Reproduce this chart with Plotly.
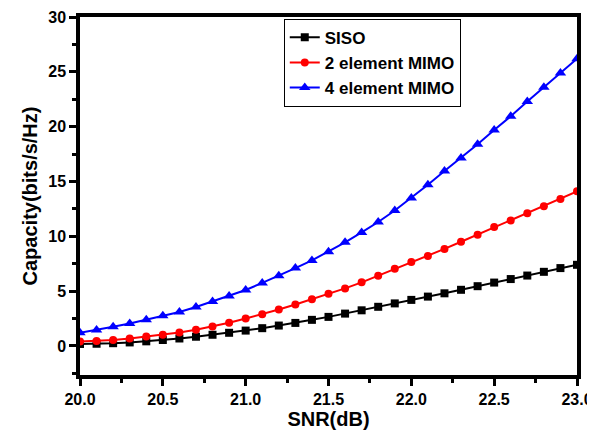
import plotly.graph_objects as go

snr = [round(20.0 + 0.1 * i, 1) for i in range(31)]

siso = [0.18, 0.2, 0.25, 0.32, 0.42, 0.54, 0.68, 0.84, 1.02, 1.2, 1.4,
        1.62, 1.86, 2.1, 2.38, 2.65, 2.95, 3.25, 3.57, 3.88, 4.2,
        4.5, 4.8, 5.12, 5.45, 5.78, 6.1, 6.42, 6.76, 7.1, 7.4]
mimo2 = [0.4, 0.45, 0.55, 0.68, 0.85, 1.02, 1.22, 1.48, 1.78, 2.12, 2.5,
         2.9, 3.32, 3.78, 4.25, 4.75, 5.25, 5.8, 6.4, 7.05, 7.65,
         8.2, 8.85, 9.5, 10.15, 10.85, 11.45, 12.1, 12.75, 13.4, 14.1]
mimo4 = [1.2, 1.45, 1.75, 2.05, 2.4, 2.75, 3.1, 3.55, 4.05, 4.55, 5.1,
         5.75, 6.4, 7.1, 7.8, 8.6, 9.45, 10.35, 11.3, 12.35, 13.5,
         14.7, 15.95, 17.15, 18.4, 19.7, 20.95, 22.3, 23.6, 24.9, 26.2]

x_ticks = [20.0, 20.5, 21.0, 21.5, 22.0, 22.5, 23.0]
x_labels = ["20.0", "20.5", "21.0", "21.5", "22.0", "22.5", "23.0"]
x_minor = [20.25, 20.75, 21.25, 21.75, 22.25, 22.75]
y_ticks = [0, 5, 10, 15, 20, 25, 30]
y_minor = [-2.5, 2.5, 7.5, 12.5, 17.5, 22.5, 27.5]

names = ["SISO", "2 element MIMO", "4 element MIMO"]
colors = ["#000000", "#ff0000", "#0000ff"]
symbols = ["square", "circle", "triangle-up"]
sizes = [8, 8, 10]

fig = go.Figure()
for name, ys, c, s, sz in zip(names, [siso, mimo2, mimo4], colors, symbols, sizes):
    fig.add_trace(go.Scatter(
        x=snr, y=ys, name=name, mode="lines+markers",
        line=dict(color=c, width=2),
        marker=dict(symbol=s, size=sz, color=c),
    ))

font_family = "Arial"
fig.update_layout(
    template="none",
    width=587, height=424,
    margin=dict(l=72, r=18, t=9, b=57),
    plot_bgcolor="white",
    font=dict(family=font_family, color="black"),
    showlegend=True,
    legend=dict(
        x=0.41, y=0.995, xanchor="left", yanchor="top",
        bgcolor="white", bordercolor="black", borderwidth=1,
        font=dict(size=17, weight="bold"),
    ),
    xaxis=dict(
        range=[20.0, 23.0], tickmode="array", tickvals=x_ticks, ticktext=x_labels,
        showgrid=False, zeroline=False,
        showline=True, linecolor="#000000", linewidth=3.5, mirror=True,
        ticks="outside", ticklen=7, tickwidth=3, tickcolor="#000000",
        minor=dict(ticks="outside", tickvals=x_minor,
                   ticklen=4, tickwidth=3, tickcolor="#000000", showgrid=False),
        tickfont=dict(size=16, weight="bold"),
        title=dict(text="SNR(dB)", font=dict(size=20, weight="bold"), standoff=4),
    ),
    yaxis=dict(
        range=[-2.65, 30], tickmode="array", tickvals=y_ticks,
        showgrid=False, zeroline=False,
        showline=True, linecolor="#000000", linewidth=3.5, mirror=True,
        ticks="outside", ticklen=7, tickwidth=3, tickcolor="#000000",
        minor=dict(ticks="outside", tickvals=y_minor,
                   ticklen=4, tickwidth=3, tickcolor="#000000", showgrid=False),
        tickfont=dict(size=16, weight="bold"),
        title=dict(text="Capacity(bits/s/Hz)", font=dict(size=20, weight="bold"), standoff=6),
    ),
)

fig.write_html("out.html")
